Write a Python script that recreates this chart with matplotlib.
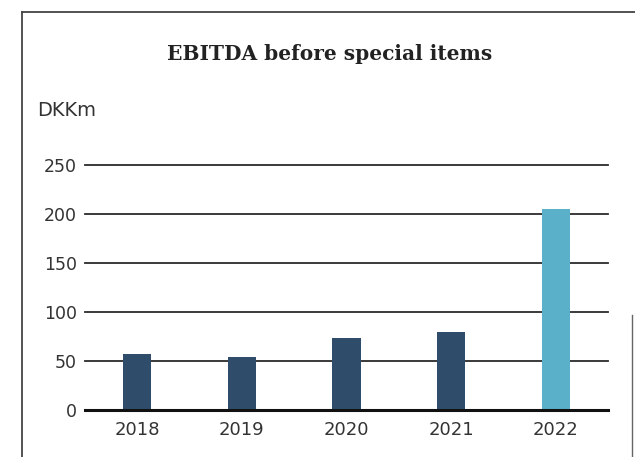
import matplotlib.pyplot as plt
from matplotlib.lines import Line2D

# data
years = ['2018', '2019', '2020', '2021', '2022']
ebitda = [57, 54, 73, 80, 205]
bar_colors = ['#2f4d6b', '#2f4d6b', '#2f4d6b', '#2f4d6b', '#5ab0c8']
yticks = [0, 50, 100, 150, 200, 250]

fig = plt.figure(figsize=(6.35, 4.57), dpi=100)
ax = fig.add_axes([85 / 635, 47 / 457, 523 / 635, 245 / 457])

x = range(len(years))
ax.bar(x, ebitda, width=0.27, color=bar_colors, zorder=3)

ax.set_xlim(-0.5, 4.5)
ax.set_ylim(0, 250)
ax.set_yticks(yticks)
ax.set_xticks(list(x))
ax.set_xticklabels(years)

# gridlines drawn as plain lines behind the bars
for t in yticks[1:]:
    ax.axhline(t, color='#2b2b2b', lw=1.3, zorder=1, clip_on=False)
ax.axhline(0, color='#111111', lw=2.2, zorder=4, clip_on=False)

for s in ax.spines.values():
    s.set_visible(False)
ax.tick_params(axis='both', length=0)
ax.tick_params(axis='y', pad=6, labelsize=12.5, labelcolor='#333333')
ax.tick_params(axis='x', pad=8, labelsize=13, labelcolor='#333333')

fig.text(330 / 635, 1 - 54 / 457, 'EBITDA before special items', ha='center', va='center',
         fontsize=14.5, fontweight='bold', family='DejaVu Serif', color='#222222')
fig.text(37 / 635, 1 - 111 / 457, 'DKKm', ha='left', va='center', fontsize=14,
         color='#333333')

# frame around the chart (scanned page border)
fw, fh = 635, 457
fig.add_artist(Line2D([22 / fw, 22 / fw], [0, 1 - 12 / fh], color='#444444', lw=1.3))
fig.add_artist(Line2D([22 / fw, 1], [1 - 12 / fh, 1 - 12 / fh], color='#444444', lw=1.3))
fig.add_artist(Line2D([632 / fw, 632 / fw], [0, 1 - 315 / fh], color='#666666', lw=1.0))

fig.savefig('out.png', dpi=100)
